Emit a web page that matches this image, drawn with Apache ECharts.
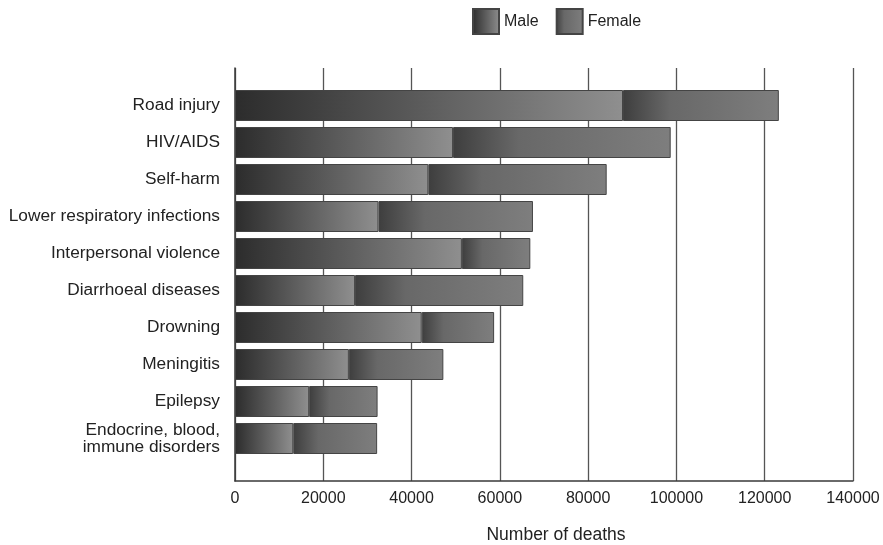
<!DOCTYPE html>
<html>
<head>
<meta charset="utf-8">
<script src="https://cdn.jsdelivr.net/npm/echarts@6/dist/echarts.min.js"></script>
<style>
  html, body { margin: 0; padding: 0; background: #fff; }
  #chart { width: 883px; height: 545px; }
</style>
</head>
<body>
<div id="chart"></div>
<script>
// causes, top to bottom
const causes = [
    'Road injury',
    'HIV/AIDS',
    'Self-harm',
    'Lower respiratory infections',
    'Interpersonal violence',
    'Diarrhoeal diseases',
    'Drowning',
    'Meningitis',
    'Epilepsy',
    'Endocrine, blood,\nimmune disorders'
];
// number of deaths
const maleDeaths = [87900, 49400, 43800, 32500, 51400, 27200, 42300, 25800, 16800, 13200];
const femaleDeaths = [35300, 49300, 40400, 35000, 15500, 38100, 16400, 21400, 15500, 19000];
const xTicks = [0, 20000, 40000, 60000, 80000, 100000, 120000, 140000];

const FONT = 'Liberation Sans, Arial, Helvetica, sans-serif';
const chart = echarts.init(document.getElementById('chart'));

const maleFill = new echarts.graphic.LinearGradient(0, 0, 1, 0, [
    { offset: 0, color: '#2c2c2c' },
    { offset: 1, color: '#8f8f8f' }
]);
const femaleFill = new echarts.graphic.LinearGradient(0, 0, 1, 0, [
    { offset: 0, color: '#3e3e3e' },
    { offset: 0.3, color: '#686868' },
    { offset: 1, color: '#7e7e7e' }
]);

const option = {
    backgroundColor: '#ffffff',
    animation: false,
    textStyle: { fontFamily: FONT },
    legend: {
        left: 467,
        top: 3,
        itemWidth: 26,
        itemHeight: 25,
        itemGap: 17,
        icon: 'rect',
        textStyle: { fontSize: 16, color: '#222', fontFamily: FONT },
        data: ['Male', 'Female']
    },
    grid: [
        // frame with the split lines
        { left: 235, right: 30, top: 68, bottom: 64, outerBoundsMode: 'none' },
        // bars
        { left: 235, right: 30, top: 87, height: 370, outerBoundsMode: 'none' }
    ],
    xAxis: [
        {
            type: 'value',
            gridIndex: 0,
            min: xTicks[0],
            max: xTicks[xTicks.length - 1],
            interval: 20000,
            axisLine: { show: true, lineStyle: { color: '#3a3a3a', width: 1.5 } },
            axisTick: { show: false },
            splitLine: { show: true, lineStyle: { color: '#555', width: 1.3 } },
            axisLabel: {
                color: '#222', fontSize: 16, margin: 10, fontFamily: FONT,
                formatter: (v) => String(v)
            },
            name: 'Number of deaths',
            nameLocation: 'middle',
            nameGap: 45,
            nameTextStyle: { color: '#222', fontSize: 17.5, fontFamily: FONT, padding: [0, 0, 0, 24] }
        },
        {
            type: 'value',
            gridIndex: 1,
            min: xTicks[0],
            max: xTicks[xTicks.length - 1],
            show: false
        }
    ],
    yAxis: [
        {
            type: 'value',
            gridIndex: 0,
            min: 0,
            max: 1,
            axisLine: { show: true, lineStyle: { color: '#3a3a3a', width: 1.5 } },
            axisTick: { show: false },
            axisLabel: { show: false },
            splitLine: { show: false }
        },
        {
            type: 'category',
            gridIndex: 1,
            inverse: true,
            data: causes,
            axisLine: { show: false },
            axisTick: { show: false },
            axisLabel: { color: '#222', fontSize: 17.3, margin: 15, lineHeight: 17, fontFamily: FONT }
        }
    ],
    series: [
        {
            name: 'Male',
            type: 'bar',
            stack: 'deaths',
            xAxisIndex: 1,
            yAxisIndex: 1,
            barWidth: 31,
            data: maleDeaths,
            itemStyle: { color: maleFill, borderColor: '#444', borderWidth: 1 }
        },
        {
            name: 'Female',
            type: 'bar',
            stack: 'deaths',
            xAxisIndex: 1,
            yAxisIndex: 1,
            barWidth: 31,
            data: femaleDeaths,
            itemStyle: { color: femaleFill, borderColor: '#444', borderWidth: 1 }
        }
    ]
};

chart.setOption(option);
</script>
</body>
</html>
